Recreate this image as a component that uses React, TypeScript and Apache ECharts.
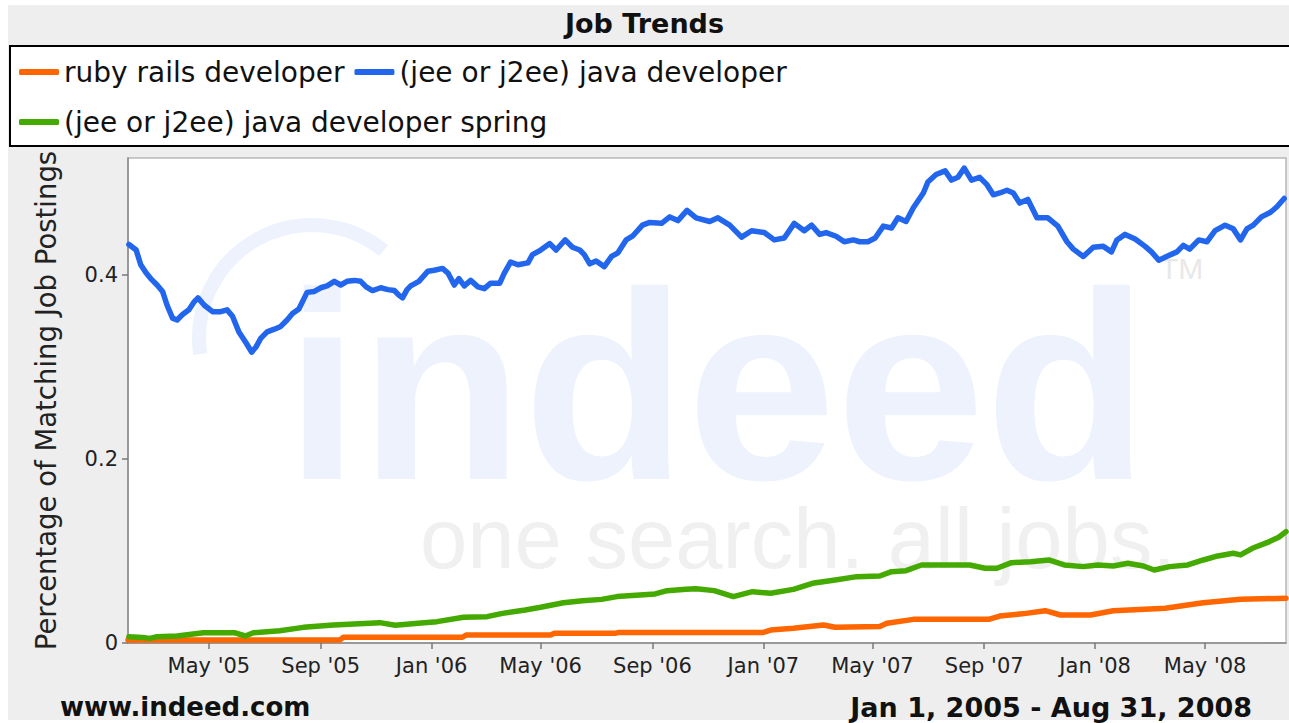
import React, { useEffect, useRef } from 'react';
import * as echarts from 'echarts';

const FONT = "'DejaVu Sans', sans-serif";

// x values are days since Jan 1, 2005
const tickDays = [120, 243, 365, 485, 608, 730, 850, 973, 1095, 1216];
const tickLabels = ["May '05", "Sep '05", "Jan '06", "May '06", "Sep '06", "Jan '07", "May '07", "Sep '07", "Jan '08", "May '08"];
const yTicks = [0, 0.2, 0.4];

const seriesNames = ['ruby rails developer', '(jee or j2ee) java developer', '(jee or j2ee) java developer spring'];
const seriesColors = ['#ff6600', '#2266ee', '#44aa00'];

const orangeDays = [31, 264, 268, 399, 403, 496, 500, 567, 571, 730, 738, 763, 796, 809, 858, 866, 895, 978, 990, 1019, 1040, 1057, 1090, 1115, 1172, 1214, 1255, 1305];
const orangeValues = [0.0033, 0.0033, 0.0062, 0.0062, 0.0087, 0.0087, 0.0105, 0.0105, 0.0115, 0.0115, 0.0141, 0.016, 0.0196, 0.0171, 0.0178, 0.0214, 0.0257, 0.0257, 0.0293, 0.0322, 0.0351, 0.0304, 0.0304, 0.0351, 0.0377, 0.0438, 0.0475, 0.0486];

const blueDays = [32, 40, 45, 51, 56, 63, 69, 74, 80, 85,
  91, 98, 104, 108, 115, 124, 133, 140, 146, 153,
  161, 167, 172, 177, 184, 192, 199, 206, 212, 219,
  225, 228, 236, 243, 250, 258, 265, 272, 280, 287,
  293, 300, 309, 317, 324, 329, 333, 338, 342, 351,
  361, 368, 377, 383, 390, 395, 401, 408, 416, 423,
  430, 440, 445, 452, 460, 471, 476, 485, 495, 502,
  512, 520, 528, 533, 539, 546, 555, 563, 570, 579,
  586, 597, 605, 618, 627, 636, 646, 656, 671, 680,
  693, 706, 717, 731, 742, 753, 764, 775, 783, 792,
  799, 810, 819, 829, 836, 845, 853, 862, 871, 878,
  887, 895, 906, 911, 920, 930, 937, 944, 951, 959,
  968, 976, 983, 990, 998, 1005, 1012, 1021, 1031, 1043,
  1054, 1064, 1071, 1082, 1093, 1104, 1113, 1119, 1128, 1139,
  1150, 1157, 1165, 1176, 1185, 1192, 1199, 1209, 1218, 1227,
  1238, 1247, 1255, 1262, 1269, 1278, 1288, 1295, 1303];
const blueValues = [0.433, 0.427, 0.411, 0.402, 0.396, 0.389, 0.382, 0.367, 0.353, 0.351,
  0.357, 0.362, 0.371, 0.375, 0.367, 0.360, 0.360, 0.362, 0.355, 0.338,
  0.326, 0.316, 0.322, 0.331, 0.338, 0.341, 0.344, 0.351, 0.358, 0.363,
  0.375, 0.381, 0.382, 0.386, 0.388, 0.393, 0.389, 0.393, 0.394, 0.393,
  0.387, 0.383, 0.386, 0.384, 0.383, 0.378, 0.375, 0.384, 0.388, 0.393,
  0.404, 0.405, 0.407, 0.402, 0.389, 0.396, 0.388, 0.394, 0.387, 0.385,
  0.391, 0.391, 0.402, 0.414, 0.411, 0.413, 0.422, 0.427, 0.434, 0.427,
  0.438, 0.430, 0.427, 0.422, 0.412, 0.415, 0.409, 0.420, 0.424, 0.438,
  0.442, 0.454, 0.457, 0.456, 0.463, 0.459, 0.470, 0.462, 0.458, 0.462,
  0.454, 0.441, 0.448, 0.446, 0.438, 0.440, 0.456, 0.448, 0.454, 0.444,
  0.446, 0.442, 0.436, 0.438, 0.436, 0.436, 0.440, 0.453, 0.451, 0.462,
  0.458, 0.473, 0.489, 0.501, 0.509, 0.513, 0.503, 0.506, 0.516, 0.503,
  0.506, 0.498, 0.487, 0.489, 0.492, 0.489, 0.478, 0.482, 0.462, 0.462,
  0.453, 0.436, 0.428, 0.420, 0.430, 0.431, 0.425, 0.438, 0.444, 0.439,
  0.431, 0.425, 0.416, 0.421, 0.425, 0.432, 0.428, 0.438, 0.436, 0.448,
  0.454, 0.450, 0.438, 0.450, 0.454, 0.463, 0.468, 0.474, 0.483];

const greenDays = [32, 47, 55, 63, 85, 114, 148, 160, 169, 198,
  224, 257, 308, 325, 350, 371, 400, 426, 443, 468,
  485, 510, 531, 552, 569, 594, 611, 624, 645, 656,
  676, 697, 718, 738, 763, 784, 809, 833, 858, 871,
  887, 904, 929, 957, 974, 987, 1003, 1024, 1044, 1061,
  1082, 1098, 1115, 1131, 1148, 1160, 1177, 1197, 1214, 1230,
  1247, 1255, 1268, 1284, 1297, 1305];
const greenValues = [0.0069, 0.0061, 0.005, 0.0069, 0.0076, 0.0112, 0.0112, 0.0076, 0.0112, 0.0134,
  0.017, 0.0196, 0.0221, 0.0192, 0.0214, 0.0232, 0.0279, 0.0286, 0.0322, 0.0359,
  0.0388, 0.0438, 0.046, 0.0474, 0.0504, 0.0522, 0.0533, 0.0569, 0.0583, 0.059,
  0.0569, 0.0504, 0.0558, 0.054, 0.0583, 0.0649, 0.0685, 0.0721, 0.0728, 0.0775,
  0.0786, 0.0848, 0.0848, 0.0848, 0.0812, 0.0812, 0.0873, 0.0884, 0.0902, 0.0848,
  0.083, 0.0848, 0.0837, 0.0866, 0.0837, 0.0793, 0.083, 0.0848, 0.0902, 0.0946,
  0.0975, 0.0957, 0.1029, 0.109, 0.1149, 0.121];

const pairs = (xs: number[], ys: number[]) => xs.map((x, i) => [x, ys[i]]);

export default function App() {
  const ref = useRef<HTMLDivElement>(null);
  useEffect(() => {
    const chart = echarts.init(ref.current!, null, { renderer: 'svg' });
    const lineSeries = (name: string, color: string, data: number[][], z: number) => ({
      name,
      type: 'line',
      data,
      showSymbol: false,
      symbol: 'none',
      smooth: false,
      z,
      color,
      lineStyle: { color, width: 5.5, join: 'round', cap: 'round' },
    });
    chart.setOption({
      animation: false,
      backgroundColor: 'transparent',
      title: {
        text: 'Job Trends',
        left: 'center',
        top: 5,
        textStyle: { fontFamily: FONT, fontSize: 27, fontWeight: 'bold', color: '#111' },
      },
      legend: {
        left: 14,
        top: 47,
        width: 860,
        orient: 'horizontal',
        itemGap: 10,
        itemWidth: 40,
        itemHeight: 6,
        icon: 'roundRect',
        data: seriesNames,
        textStyle: { fontFamily: FONT, fontSize: 28, color: '#111', lineHeight: 40 },
      },
      grid: {
        left: 128,
        right: 3,
        top: 158,
        bottom: 80,
        show: true,
        backgroundColor: '#ffffff',
        borderColor: '#b8b8b8',
        borderWidth: 1.5,
        containLabel: false,
      },
      xAxis: {
        type: 'value',
        min: 31,
        max: 1305,
        axisLine: { show: true, lineStyle: { color: '#888', width: 1.5 } },
        axisTick: { show: true, customValues: tickDays, length: 6, lineStyle: { color: '#777', width: 1.5 } },
        axisLabel: {
          customValues: tickDays,
          formatter: (v: number) => {
            const i = tickDays.indexOf(v);
            return i >= 0 ? tickLabels[i] : '';
          },
          fontFamily: FONT,
          fontSize: 21,
          color: '#222',
          margin: 12,
        },
        splitLine: { show: false },
      },
      yAxis: {
        type: 'value',
        min: 0,
        max: 0.527,
        name: 'Percentage of Matching Job Postings',
        nameLocation: 'middle',
        nameGap: 68,
        nameTextStyle: { fontFamily: FONT, fontSize: 27.5, color: '#222' },
        axisLine: { show: true, lineStyle: { color: '#888', width: 1.5 } },
        axisTick: { show: true, customValues: yTicks, length: 6, lineStyle: { color: '#777', width: 1.5 } },
        axisLabel: {
          customValues: yTicks,
          formatter: (v: number) => (v === 0 ? '0' : v.toFixed(1)),
          fontFamily: FONT,
          fontSize: 21,
          color: '#222',
          margin: 10,
        },
        splitLine: { show: false },
      },
      graphic: [
        {
          type: 'rect', z: 1, silent: true,
          shape: { x: 10, y: 46, width: 1290, height: 100 },
          style: { fill: '#ffffff', stroke: '#000000', lineWidth: 2 },
        },
        {
          type: 'arc', z: 1, silent: true,
          shape: { cx: 312, cy: 338, r: 113, startAngle: 3.0, endAngle: 5.4, clockwise: true },
          style: { stroke: '#edf2fc', lineWidth: 14, fill: 'none' },
        },
        {
          type: 'text', z: 1, silent: true, x: 285, y: 386,
          style: { text: 'indeed', fontFamily: "'Liberation Sans', sans-serif", fontWeight: 'bold', fontSize: 268, lineHeight: 215, fill: '#edf2fc', verticalAlign: 'middle' },
        },
        {
          type: 'text', z: 1, silent: true, x: 420, y: 538,
          style: { text: 'one search. all jobs.', fontFamily: "'Liberation Sans', sans-serif", fontSize: 85, lineHeight: 80, fill: '#f0f0f0', verticalAlign: 'middle' },
        },
        {
          type: 'text', z: 1, silent: true, x: 1160, y: 268,
          style: { text: 'TM', fontFamily: "'Liberation Sans', sans-serif", fontSize: 30, fill: '#e8e8e8', verticalAlign: 'middle' },
        },
        {
          type: 'text', z: 5, silent: true, x: 60, y: 707,
          style: { text: 'www.indeed.com', fontFamily: FONT, fontWeight: 'bold', fontSize: 26, fill: '#111', verticalAlign: 'middle' },
        },
        {
          type: 'text', z: 5, silent: true, x: 1252, y: 707,
          style: { text: 'Jan 1, 2005 - Aug 31, 2008', fontFamily: FONT, fontWeight: 'bold', fontSize: 27, fill: '#111', verticalAlign: 'middle', align: 'right' },
        },
      ],
      series: [
        lineSeries(seriesNames[0], seriesColors[0], pairs(orangeDays, orangeValues), 3),
        lineSeries(seriesNames[1], seriesColors[1], pairs(blueDays, blueValues), 3),
        lineSeries(seriesNames[2], seriesColors[2], pairs(greenDays, greenValues), 4),
      ],
    });
    return () => chart.dispose();
  }, []);
  return (
    <div style={{ position: 'fixed', left: 0, top: 0, width: 1289, height: 723, background: '#ffffff' }}>
      <div style={{ position: 'absolute', left: 8, top: 5, right: 0, bottom: 3, background: '#eeeeee' }} />
      <div ref={ref} style={{ position: 'absolute', left: 0, top: 0, width: 1289, height: 723 }} />
    </div>
  );
}
